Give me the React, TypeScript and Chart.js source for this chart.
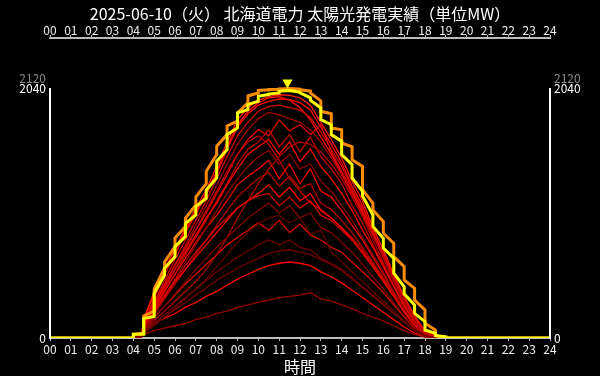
import React, { useEffect, useRef } from "react";
import { Chart, registerables } from "chart.js";

Chart.register(...registerables);

const TITLE = "2025-06-10（火） 北海道電力 太陽光発電実績（単位MW）";
const X_TITLE = "時間";
const FONT = "'Noto Sans CJK JP', 'Noto Sans', sans-serif";

const HOUR_VALUES = [0, 1, 2, 3, 4, 5, 6, 7, 8, 9, 10, 11, 12, 13, 14, 15, 16, 17, 18, 19, 20, 21, 22, 23, 24];
const HOUR_LABELS = ["00", "01", "02", "03", "04", "05", "06", "07", "08", "09", "10", "11", "12", "13", "14", "15", "16", "17", "18", "19", "20", "21", "22", "23", "24"];
const Y_TICKS = [0, 2040, 2120];
const Y_AXIS_TOP = 2040;
const Y_MAX = 2448;

// today (yellow) and record (orange): value right after / right before each half-hour step
const SLOT_TIMES = [4, 4.5, 5, 5.5, 6, 6.5, 7, 7.5, 8, 8.5, 9, 9.5, 10, 10.5, 11, 11.5, 12, 12.5, 13, 13.5, 14, 14.5, 15, 15.5, 16, 16.5, 17, 17.5, 18, 18.5];
const TODAY_START = [30, 160, 365, 569, 746, 935, 1072, 1208, 1442, 1660, 1837, 1905, 1973, 1990, 2014, 2020, 2000, 1940, 1782, 1660, 1497, 1306, 1160, 910, 733, 528, 360, 201, 65, 20];
const TODAY_END = [30, 175, 514, 664, 827, 1004, 1140, 1306, 1537, 1714, 1864, 1932, 1987, 2000, 2020, 2005, 1960, 1877, 1741, 1606, 1415, 1197, 1004, 814, 651, 419, 269, 133, 38, 10];
const RECORD_START = [30, 180, 400, 620, 816, 977, 1150, 1360, 1565, 1730, 1837, 1975, 2020, 2028, 2033, 2035, 2025, 2000, 1850, 1714, 1592, 1455, 1210, 1045, 855, 664, 473, 310, 120, 20];
const RECORD_END = [40, 220, 570, 746, 909, 1086, 1260, 1497, 1660, 1770, 1918, 2000, 2025, 2030, 2035, 2030, 2015, 1935, 1830, 1700, 1560, 1400, 1100, 950, 773, 582, 405, 229, 65, 0];
const PEAK_MARK_HOUR = 11.4;
const PEAK_MARK_VALUE = 2085;

// past days (red family), half-hourly (plus 04:24 just before the first jump)
const PAST_TIMES = [4, 4.4, 4.5, 5, 5.5, 6, 6.5, 7, 7.5, 8, 8.5, 9, 9.5, 10, 10.5, 11, 11.5, 12, 12.5, 13, 13.5, 14, 14.5, 15, 15.5, 16, 16.5, 17, 17.5, 18, 18.5, 19];
const PAST_A = [20, 30, 150, 360, 560, 720, 900, 1060, 1210, 1400, 1600, 1780, 1880, 1940, 1970, 1985, 1980, 1960, 1900, 1760, 1620, 1470, 1280, 1120, 900, 720, 520, 340, 180, 60, 15, 0];
const PAST_B = [15, 28, 130, 320, 520, 680, 860, 1010, 1170, 1340, 1540, 1720, 1830, 1900, 1930, 1950, 1945, 1920, 1860, 1720, 1580, 1430, 1240, 1080, 870, 690, 500, 320, 170, 50, 10, 0];
const PAST_C = [10, 25, 110, 290, 470, 640, 800, 960, 1120, 1300, 1480, 1650, 1760, 1850, 1890, 1900, 1880, 1860, 1800, 1680, 1540, 1400, 1220, 1050, 850, 660, 480, 300, 150, 40, 10, 0];
const PAST_D = [10, 22, 100, 260, 430, 590, 760, 920, 1080, 1240, 1420, 1580, 1700, 1790, 1840, 1820, 1790, 1760, 1700, 1600, 1470, 1330, 1160, 990, 800, 620, 440, 280, 140, 40, 8, 0];
const PAST_E = [12, 26, 120, 280, 440, 600, 740, 880, 1020, 1180, 1330, 1500, 1620, 1700, 1650, 1780, 1690, 1740, 1660, 1740, 1520, 1360, 1200, 1040, 860, 680, 480, 310, 160, 45, 10, 0];
const PAST_F = [10, 20, 90, 230, 380, 520, 680, 820, 960, 1120, 1260, 1420, 1540, 1600, 1700, 1560, 1660, 1520, 1640, 1480, 1380, 1260, 1080, 940, 760, 600, 420, 270, 130, 35, 8, 0];
const PAST_G = [15, 28, 110, 260, 420, 560, 700, 840, 980, 1100, 1250, 1380, 1500, 1560, 1620, 1500, 1600, 1440, 1540, 1400, 1300, 1180, 1040, 880, 740, 580, 420, 260, 130, 35, 8, 0];
const PAST_H = [8, 18, 80, 200, 340, 480, 620, 760, 900, 1040, 1180, 1300, 1400, 1480, 1530, 1420, 1500, 1380, 1420, 1280, 1200, 1080, 960, 820, 680, 540, 380, 240, 120, 30, 5, 0];
const PAST_I = [10, 22, 100, 240, 380, 520, 650, 780, 900, 1000, 1120, 1250, 1320, 1380, 1450, 1300, 1420, 1260, 1380, 1200, 1150, 1040, 920, 800, 660, 520, 370, 230, 110, 30, 5, 0];
const PAST_J = [8, 16, 70, 190, 320, 440, 560, 680, 800, 920, 1040, 1150, 1230, 1300, 1350, 1240, 1320, 1220, 1260, 1100, 1050, 960, 860, 740, 620, 490, 350, 220, 110, 30, 5, 0];
const PAST_K = [10, 20, 90, 220, 340, 460, 560, 660, 760, 860, 960, 1060, 1120, 1180, 1250, 1150, 1230, 1120, 1180, 1040, 980, 900, 800, 690, 580, 460, 340, 210, 100, 25, 5, 0];
const PAST_L = [6, 14, 60, 160, 260, 360, 460, 560, 650, 740, 820, 900, 980, 1040, 1100, 1020, 1080, 980, 1020, 900, 860, 780, 700, 600, 500, 400, 290, 180, 90, 20, 3, 0];
const PAST_M = [8, 16, 70, 170, 260, 350, 440, 520, 600, 680, 760, 820, 880, 940, 880, 960, 860, 930, 840, 800, 740, 700, 620, 540, 460, 370, 270, 170, 80, 20, 3, 0];
const PAST_N = [5, 12, 50, 120, 190, 260, 330, 400, 470, 540, 600, 660, 710, 760, 800, 760, 800, 740, 720, 650, 610, 560, 490, 420, 350, 280, 200, 130, 60, 15, 2, 0];
const PAST_O = [5, 15, 60, 120, 160, 200, 250, 290, 340, 380, 430, 480, 520, 560, 590, 610, 620, 610, 590, 540, 500, 450, 390, 330, 270, 210, 150, 90, 40, 10, 2, 0];
const PAST_P = [3, 8, 30, 60, 80, 100, 120, 150, 170, 200, 220, 250, 270, 290, 310, 330, 340, 350, 370, 320, 300, 270, 240, 200, 170, 140, 100, 60, 30, 8, 0, 0];
const PAST_Q = [10, 22, 100, 250, 400, 560, 720, 880, 1040, 1200, 1360, 1500, 1600, 1650, 1580, 1450, 1300, 1200, 1100, 1050, 980, 900, 820, 720, 600, 480, 350, 220, 110, 30, 5, 0];
const PAST_R = [5, 12, 60, 140, 220, 300, 380, 460, 560, 680, 820, 980, 1120, 1260, 1380, 1480, 1560, 1600, 1580, 1520, 1420, 1300, 1150, 1000, 830, 660, 480, 310, 150, 40, 8, 0];
const PAST_S = [5, 10, 40, 100, 170, 240, 320, 400, 480, 580, 680, 780, 860, 930, 980, 1000, 940, 980, 850, 880, 700, 620, 540, 460, 380, 300, 220, 140, 70, 18, 3, 0];
const PAST_T = [20, 32, 160, 380, 570, 720, 880, 1030, 1180, 1360, 1560, 1740, 1850, 1920, 1960, 1970, 1940, 1880, 1780, 1640, 1500, 1340, 1180, 1020, 840, 660, 470, 300, 150, 45, 10, 0];
const PAST_U = [5, 10, 45, 110, 170, 230, 290, 350, 410, 470, 520, 570, 610, 650, 690, 710, 720, 700, 680, 640, 600, 550, 480, 410, 340, 270, 200, 130, 60, 15, 2, 0];
const PAST_V = [10, 20, 90, 220, 350, 470, 590, 700, 800, 900, 980, 1060, 1120, 1160, 1180, 1080, 1150, 1060, 1120, 1000, 960, 880, 800, 700, 600, 480, 350, 220, 110, 30, 5, 0];

const PAST_SERIES = [PAST_P, PAST_U, PAST_N, PAST_S, PAST_L, PAST_V, PAST_K, PAST_J, PAST_H, PAST_I, PAST_Q, PAST_R, PAST_G, PAST_F, PAST_E, PAST_M, PAST_O, PAST_D, PAST_C, PAST_B, PAST_T, PAST_A];
const PAST_COLORS = ["#990000", "#700000", "#700000", "#600000", "#800000", "#d00000", "#ff0000", "#b00000", "#900000", "#f00000", "#c00000", "#b00000", "#ff0000", "#c00000", "#e00000", "#e00000", "#ff0000", "#a00000", "#d40000", "#ff0000", "#ff1000", "#ff1a00"];

const COLOR_TODAY = "#ffff00";
const COLOR_RECORD = "#ff8c00";

function stepPoints(times: number[], starts: number[], ends: number[]) {
  const pts: { x: number; y: number }[] = [
    { x: HOUR_VALUES[0], y: 0 },
    { x: times[0], y: 0 },
  ];
  times.forEach((t, i) => {
    pts.push({ x: t, y: starts[i] });
    pts.push({ x: t + 0.5, y: ends[i] });
  });
  const last = times[times.length - 1] + 0.5;
  pts.push({ x: last, y: 0 });
  pts.push({ x: HOUR_VALUES[HOUR_VALUES.length - 1], y: 0 });
  return pts;
}

const axisLinesPlugin = {
  id: "axisLines",
  afterDraw(chart: any) {
    const { ctx, chartArea, scales } = chart;
    const y = scales.y;
    const y0 = y.getPixelForValue(0);
    const yt = y.getPixelForValue(Y_AXIS_TOP);
    ctx.save();
    ctx.strokeStyle = "#ffffff";
    ctx.lineWidth = 2;
    [chartArea.left, chartArea.right].forEach((x: number) => {
      ctx.beginPath();
      ctx.moveTo(x, y0 + 1);
      ctx.lineTo(x, yt);
      ctx.stroke();
    });
    ctx.restore();
  },
};

const bgPlugin = {
  id: "bg",
  beforeDraw(chart: any) {
    const { ctx, width, height } = chart;
    ctx.save();
    ctx.fillStyle = "#000";
    ctx.fillRect(0, 0, width, height);
    ctx.restore();
  },
};

export default function App() {
  const ref = useRef<HTMLCanvasElement | null>(null);

  useEffect(() => {
    if (!ref.current) return;

    const pastDatasets = PAST_SERIES.map((vals, k) => ({
      label: "past" + k,
      data: PAST_TIMES.map((t, i) => ({ x: t, y: vals[i] })),
      borderColor: PAST_COLORS[k],
      borderWidth: 1.3,
      pointRadius: 0,
      tension: 0,
      fill: false,
    }));

    const xAxisBase = (position: string, height: number, withTitle: boolean, pad: number) => ({
      type: "linear",
      position,
      min: HOUR_VALUES[0],
      max: HOUR_VALUES[HOUR_VALUES.length - 1],
      afterBuildTicks: (s: any) => {
        s.ticks = HOUR_VALUES.map((v) => ({ value: v }));
      },
      afterFit: (s: any) => {
        s.height = height;
      },
      ticks: {
        color: "#eeeeee",
        font: { family: FONT, size: 12 },
        autoSkip: false,
        maxRotation: 0,
        padding: pad,
        callback: (_v: any, i: number) => HOUR_LABELS[i],
      },
      grid: { display: true, drawOnChartArea: false, drawTicks: true, tickLength: 3, color: "#bbbbbb", lineWidth: 1 },
      border: { display: true, color: "#bbbbbb", width: 2 },
      title: withTitle
        ? { display: true, text: X_TITLE, color: "#ffffff", font: { family: FONT, size: 16, lineHeight: 1.1 }, padding: 0 }
        : { display: false },
    });

    const yAxisBase = (position: string) => ({
      type: "linear",
      position,
      min: 0,
      max: Y_MAX,
      afterBuildTicks: (s: any) => {
        s.ticks = Y_TICKS.map((v) => ({ value: v }));
      },
      afterFit: (s: any) => {
        s.width = 50;
      },
      ticks: {
        autoSkip: false,
        padding: 4,
        font: { family: FONT, size: 12 },
        color: (c: any) => (c.tick && c.tick.value === Y_TICKS[2] ? "#8a8a8a" : "#ffffff"),
        callback: (v: any) => String(v),
      },
      grid: { display: false, drawTicks: false },
      border: { display: false },
    });

    const chart = new Chart(ref.current, {
      type: "line",
      data: {
        datasets: [
          {
            label: "peak",
            data: [{ x: PEAK_MARK_HOUR, y: PEAK_MARK_VALUE }],
            showLine: false,
            pointStyle: "triangle",
            rotation: 180,
            pointRadius: 6,
            backgroundColor: COLOR_TODAY,
            borderColor: COLOR_TODAY,
            borderWidth: 0,
          },
          {
            label: "today",
            data: stepPoints(SLOT_TIMES, TODAY_START, TODAY_END),
            borderColor: COLOR_TODAY,
            borderWidth: 3,
            pointRadius: 0,
            tension: 0,
            fill: false,
          },
          {
            label: "record",
            data: stepPoints(SLOT_TIMES, RECORD_START, RECORD_END),
            borderColor: COLOR_RECORD,
            borderWidth: 3,
            pointRadius: 0,
            tension: 0,
            fill: false,
          },
          ...pastDatasets,
        ] as any,
      },
      options: {
        animation: false,
        responsive: true,
        maintainAspectRatio: false,
        layout: { padding: 0 },
        plugins: {
          legend: { display: false },
          tooltip: { enabled: false },
          title: {
            display: true,
            text: TITLE,
            color: "#ffffff",
            font: { family: FONT, size: 16, weight: "normal", lineHeight: 1.2 },
            padding: { top: 4, bottom: 0 },
          },
        },
        scales: {
          x: xAxisBase("bottom", 38, true, 1),
          x2: xAxisBase("top", 14.8, false, -3),
          y: yAxisBase("left"),
          y2: yAxisBase("right"),
        } as any,
      },
      plugins: [bgPlugin, axisLinesPlugin],
    } as any);

    return () => chart.destroy();
  }, []);

  return (
    <div style={{ position: "fixed", left: 0, top: 0, width: 600, height: 376, background: "#000" }}>
      <canvas ref={ref} />
    </div>
  );
}
